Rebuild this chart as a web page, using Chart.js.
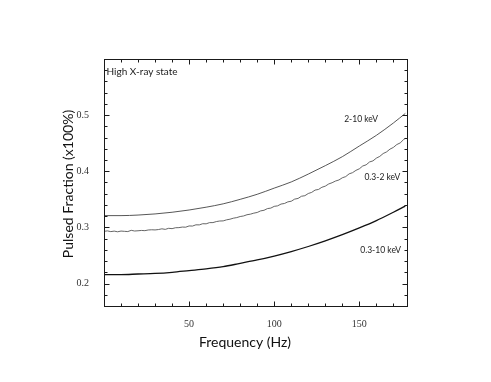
<!DOCTYPE html>
<html>
<head>
<meta charset="utf-8">
<script src="https://cdn.jsdelivr.net/npm/chart.js@4/dist/chart.umd.min.js"></script>
<style>
html,body{margin:0;padding:0;background:#fff;}
#wrap{width:491px;height:382px;position:relative;}
</style>
</head>
<body>
<div id="wrap"><canvas id="c" width="491" height="382"></canvas></div>
<script>
// ---- data ----
const freqSmooth = [0, 10, 20, 30, 40, 50, 60, 70, 80, 90, 100, 110, 120, 130, 140, 150, 160, 170, 177];
const pf_2_10 = [0.321, 0.321, 0.322, 0.324, 0.327, 0.331, 0.336, 0.342, 0.350, 0.359, 0.370, 0.381, 0.395, 0.410, 0.426, 0.445, 0.464, 0.486, 0.503];
const pf_03_10 = [0.216, 0.216, 0.217, 0.218, 0.220, 0.223, 0.226, 0.230, 0.236, 0.242, 0.249, 0.257, 0.266, 0.276, 0.287, 0.299, 0.312, 0.327, 0.338];
const freqNoisy = [0, 2, 4, 6, 8, 10, 12, 14, 16, 18, 20, 22, 24, 26, 28, 30, 32, 34, 36, 38, 40, 42, 44, 46, 48, 50, 52, 54, 56, 58, 60, 62, 64, 66, 68, 70, 72, 74, 76, 78, 80, 82, 84, 86, 88, 90, 92, 94, 96, 98, 100, 102, 104, 106, 108, 110, 112, 114, 116, 118, 120, 122, 124, 126, 128, 130, 132, 134, 136, 138, 140, 142, 144, 146, 148, 150, 152, 154, 156, 158, 160, 162, 164, 166, 168, 170, 172, 174, 176, 177];
const pf_03_2 = [0.2930, 0.2938, 0.2925, 0.2934, 0.2922, 0.2935, 0.2930, 0.2926, 0.2948, 0.2936, 0.2940, 0.2946, 0.2942, 0.2954, 0.2958, 0.2955, 0.2962, 0.2975, 0.2965, 0.2984, 0.2978, 0.2994, 0.2996, 0.3006, 0.3004, 0.3026, 0.3024, 0.3046, 0.3045, 0.3066, 0.3064, 0.3085, 0.3086, 0.3104, 0.3114, 0.3116, 0.3135, 0.3146, 0.3164, 0.3175, 0.3194, 0.3204, 0.3226, 0.3236, 0.3254, 0.3266, 0.3294, 0.3305, 0.3335, 0.3344, 0.3375, 0.3384, 0.3416, 0.3426, 0.3455, 0.3466, 0.3504, 0.3516, 0.3555, 0.3565, 0.3604, 0.3624, 0.3665, 0.3676, 0.3715, 0.3735, 0.3774, 0.3796, 0.3826, 0.3845, 0.3884, 0.3905, 0.3954, 0.3975, 0.4016, 0.4044, 0.4094, 0.4115, 0.4166, 0.4185, 0.4234, 0.4265, 0.4316, 0.4345, 0.4394, 0.4425, 0.4476, 0.4505, 0.4565, 0.4585];
const xTickLabels = [50, 100, 150];
const yTickLabels = [0.2, 0.3, 0.4, 0.5];
const seriesNames = ['2-10 keV', '0.3-2 keV', '0.3-10 keV'];

const toXY = (xs, ys) => xs.map((x, i) => ({x: x, y: ys[i]}));

const annotations = [
  {text: 'High X-ray state', x: 1.5, y: 0.577, align: 'left', font: '10px Lato', color: '#222'},
  {text: seriesNames[0], x: 151, y: 0.493, align: 'center', font: '8.5px Lato', color: '#222'},
  {text: seriesNames[1], x: 163.5, y: 0.389, align: 'center', font: '8.5px Lato', color: '#222'},
  {text: seriesNames[2], x: 162.5, y: 0.259, align: 'center', font: '8.5px Lato', color: '#222'}
];

const framePlugin = {
  id: 'frame',
  afterDraw(chart) {
    const ctx = chart.ctx, a = chart.chartArea;
    const xs = chart.scales.x, ys = chart.scales.y;
    ctx.save();
    ctx.strokeStyle = '#1a1a1a';
    ctx.lineWidth = 1;
    const L = Math.round(a.left) + 0.5, R = Math.round(a.right) + 0.5;
    const T = Math.round(a.top) + 0.5, B = Math.round(a.bottom) + 0.5;
    ctx.strokeRect(L, T, R - L, B - T);
    ctx.beginPath();
    for (let v = 10; v <= 170; v += 10) {
      const p = Math.round(xs.getPixelForValue(v)) + 0.5;
      const len = (v % 50 === 0) ? 5 : 3;
      ctx.moveTo(p, B); ctx.lineTo(p, B - len);
      ctx.moveTo(p, T); ctx.lineTo(p, T + len);
    }
    for (let k = 9; k <= 29; k++) {
      const v = k * 0.02;
      const p = Math.round(ys.getPixelForValue(v)) + 0.5;
      const len = (k % 5 === 0) ? 5 : 3;
      ctx.moveTo(L, p); ctx.lineTo(L + len, p);
      ctx.moveTo(R, p); ctx.lineTo(R - len, p);
    }
    ctx.stroke();
    // annotations
    ctx.textBaseline = 'middle';
    annotations.forEach(an => {
      ctx.font = an.font;
      ctx.fillStyle = an.color;
      ctx.textAlign = an.align;
      ctx.fillText(an.text, xs.getPixelForValue(an.x), ys.getPixelForValue(an.y));
    });
    // axis titles
    ctx.fillStyle = '#111';
    ctx.font = '14px Lato';
    ctx.textAlign = 'center';
    ctx.fillText('Frequency (Hz)', 245, 342);
    ctx.translate(68, 184);
    ctx.rotate(-Math.PI / 2);
    ctx.fillText('Pulsed Fraction (x100%)', 0, 0);
    ctx.restore();
  }
};

new Chart(document.getElementById('c'), {
  type: 'line',
  data: {
    datasets: [
      {label: seriesNames[0], data: toXY(freqSmooth, pf_2_10), borderColor: '#444444', borderWidth: 0.9, pointRadius: 0, cubicInterpolationMode: 'monotone', fill: false},
      {label: seriesNames[1], data: toXY(freqNoisy, pf_03_2), borderColor: '#555555', borderWidth: 0.9, pointRadius: 0, tension: 0, fill: false},
      {label: seriesNames[2], data: toXY(freqSmooth, pf_03_10), borderColor: '#111111', borderWidth: 1.3, pointRadius: 0, cubicInterpolationMode: 'monotone', fill: false}
    ]
  },
  options: {
    responsive: false,
    animation: false,
    layout: {padding: {left: 0, top: 59, right: 84, bottom: 0}},
    plugins: {legend: {display: false}, tooltip: {enabled: false}},
    scales: {
      x: {
        type: 'linear', min: 0, max: 178,
        grid: {display: false}, border: {display: false},
        afterFit: s => { s.height = 76; },
        afterBuildTicks: s => { s.ticks = xTickLabels.map(v => ({value: v})); },
        ticks: {padding: 4, color: '#333', font: {family: 'Liberation Serif', size: 10}}
      },
      y: {
        type: 'linear', min: 0.16, max: 0.6,
        grid: {display: false}, border: {display: false},
        afterFit: s => { s.width = 104; },
        afterBuildTicks: s => { s.ticks = yTickLabels.map(v => ({value: v})); },
        ticks: {padding: 7, color: '#333', font: {family: 'Liberation Serif', size: 10}, callback: v => v.toFixed(1)}
      }
    }
  },
  plugins: [framePlugin]
});
</script>
</body>
</html>
